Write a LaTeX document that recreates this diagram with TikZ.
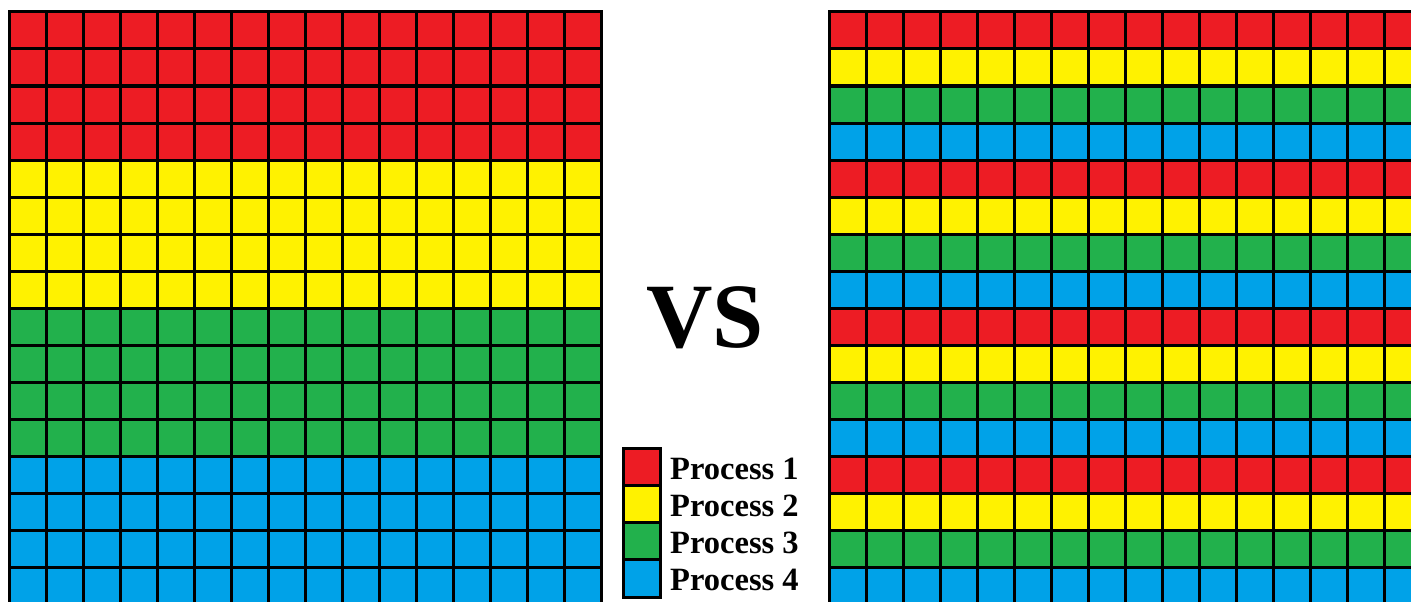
\documentclass[tikz,border=0pt]{standalone}
\usepackage{fontspec}
\setmainfont{Liberation Serif}
\definecolor{proc1}{HTML}{ED1C24}
\definecolor{proc2}{HTML}{FFF200}
\definecolor{proc3}{HTML}{22B14C}
\definecolor{proc4}{HTML}{00A2E8}
\tikzset{cellline/.style={line width=3pt,line cap=rect}}
\begin{document}
\begin{tikzpicture}[x=1pt,y=-1pt]
  \useasboundingbox (0,0) rectangle (1411,602);
  \clip (0,0) rectangle (1411,602);
  % Left grid: one block of rows per process
  \foreach \r in {0,...,15}{
    \pgfmathtruncatemacro{\p}{floor(\r/4)+1}
    \fill[proc\p] (9,12+37*\r) rectangle ++(592,37);
  }
  \foreach \i in {0,...,16}{
    \draw[cellline] (9+37*\i,12) -- (9+37*\i,604);
    \draw[cellline] (9,12+37*\i) -- (601,12+37*\i);
  }
  % Right grid: rows dealt out in turn
  \foreach \r in {0,...,15}{
    \pgfmathtruncatemacro{\q}{mod(\r,4)+1}
    \fill[proc\q] (829,12+37*\r) rectangle ++(592,37);
  }
  \foreach \i in {0,...,16}{
    \draw[cellline] (829+37*\i,12) -- (829+37*\i,604);
    \draw[cellline] (829,12+37*\i) -- (1421,12+37*\i);
  }
  % VS
  \node[anchor=base,inner sep=0pt,font=\fontsize{92}{92}\selectfont\bfseries] (vs) at (705,347) {VS};
  % Legend
  \foreach \k/\name in {1/one,2/two,3/three,4/four}{
    \fill[proc\k] (623,448+37.25*\k-37.25) rectangle ++(37,37.25);
    \draw[cellline] (623,448+37.25*\k-37.25) rectangle ++(37,37.25);
    \node[anchor=base west,inner sep=0pt,font=\fontsize{32.5}{32.5}\selectfont\bfseries] (leg\name) at (670,479+37.25*\k-37.25) {Process \k};
  }
\end{tikzpicture}
\end{document}
